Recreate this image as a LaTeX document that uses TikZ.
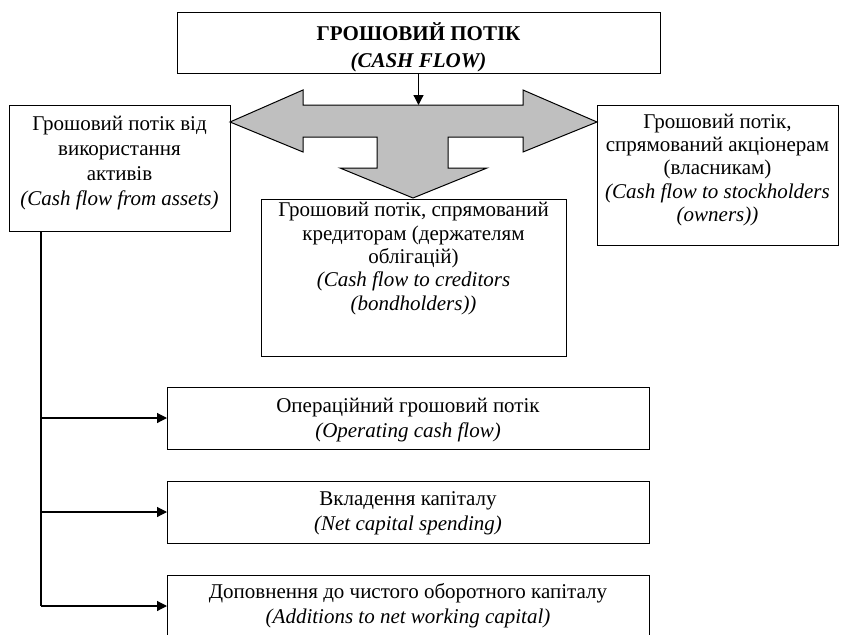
\documentclass[tikz,border=0pt]{standalone}
\usepackage{fontspec}
\setmainfont{Liberation Serif}
\usetikzlibrary{arrows.meta}
\begin{document}
\begin{tikzpicture}[x=1pt,y=-1pt,
  box/.style={draw, line width=1pt, inner sep=0pt, outer sep=0pt, anchor=north west},
  txt/.style={font=\fontsize{21}{#1}\selectfont, align=center, inner sep=0pt},
  txt/.default=24,
  conn/.style={line width=1.2pt, -{Triangle[length=10pt,width=10pt]}},
  trunk/.style={line width=1.2pt}
]
\useasboundingbox (0,0) rectangle (844,635);
\clip (0,0) rectangle (844,635);
% boxes
\node[box, minimum width=483pt, minimum height=61pt] (top) at (177,12) {};
\node[box, minimum width=221pt, minimum height=126pt] (left) at (9,105) {};
\node[box, minimum width=305pt, minimum height=157pt] (mid) at (261,199) {};
\node[box, minimum width=241pt, minimum height=140pt] (right) at (597,105) {};
\node[box, minimum width=482pt, minimum height=62pt] (b1) at (167,387) {};
\node[box, minimum width=482pt, minimum height=62pt] (b2) at (167,481) {};
\node[box, minimum width=482pt, minimum height=62pt] (b3) at (167,575) {};
% texts
\node[txt=27] (ttop) at (418.5,47.5) {\textbf{ГРОШОВИЙ ПОТІК}\\\textbf{\textit{(CASH FLOW)}}};
\node[txt=25] (tleft) at (119.5,163) {Грошовий потік від\\використання\\активів\\\textit{(Cash flow from assets)}};
\node[txt=23.4] (tmid) at (413.5,258.5) {Грошовий потік, спрямований\\кредиторам (держателям\\облігацій)\\\textit{(Cash flow to creditors}\\\textit{(bondholders))}};
\node[txt=23.4] (tright) at (717.5,170) {Грошовий потік,\\спрямований акціонерам\\(власникам)\\\textit{(Cash flow to stockholders}\\\textit{(owners))}};
\node[txt=25] (tb1) at (408,420) {Операційний грошовий потік\\\textit{(Operating cash flow)}};
\node[txt=25] (tb2) at (408,513) {Вкладення капіталу\\\textit{(Net capital spending)}};
\node[txt=25] (tb3) at (408,606) {Доповнення до чистого оборотного капіталу\\\textit{(Additions to net working capital)}};
% gray three-way arrow
\coordinate (lt) at (230,122);
\coordinate (rt) at (597,122);
\coordinate (dt) at (413,198);
\filldraw[fill=black!25, line width=1pt, line join=miter]
  (lt) -- (303,90) -- (303,105) -- (523,105) -- (523,90) -- (rt)
  -- (523,152) -- (523,137) -- (448,137) -- (448,168) -- (487,168)
  -- (dt) -- (340,168) -- (377,168) -- (377,137) -- (303,137) -- (303,152) -- cycle;
\coordinate (shafttop) at (top.south |- 0,105);
\draw[conn] (top.south) -- (shafttop);
% trunk and branches
\coordinate (tr0) at (41,231);
\coordinate (tr1) at (41,418);
\coordinate (tr2) at (41,512);
\coordinate (tr3) at (41,606);
\draw[trunk] (tr0) -- (tr3);
\draw[conn] (tr1) -- (b1.west |- tr1);
\draw[conn] (tr2) -- (b2.west |- tr2);
\draw[conn] (tr3) -- (b3.west |- tr3);
\end{tikzpicture}
\end{document}
